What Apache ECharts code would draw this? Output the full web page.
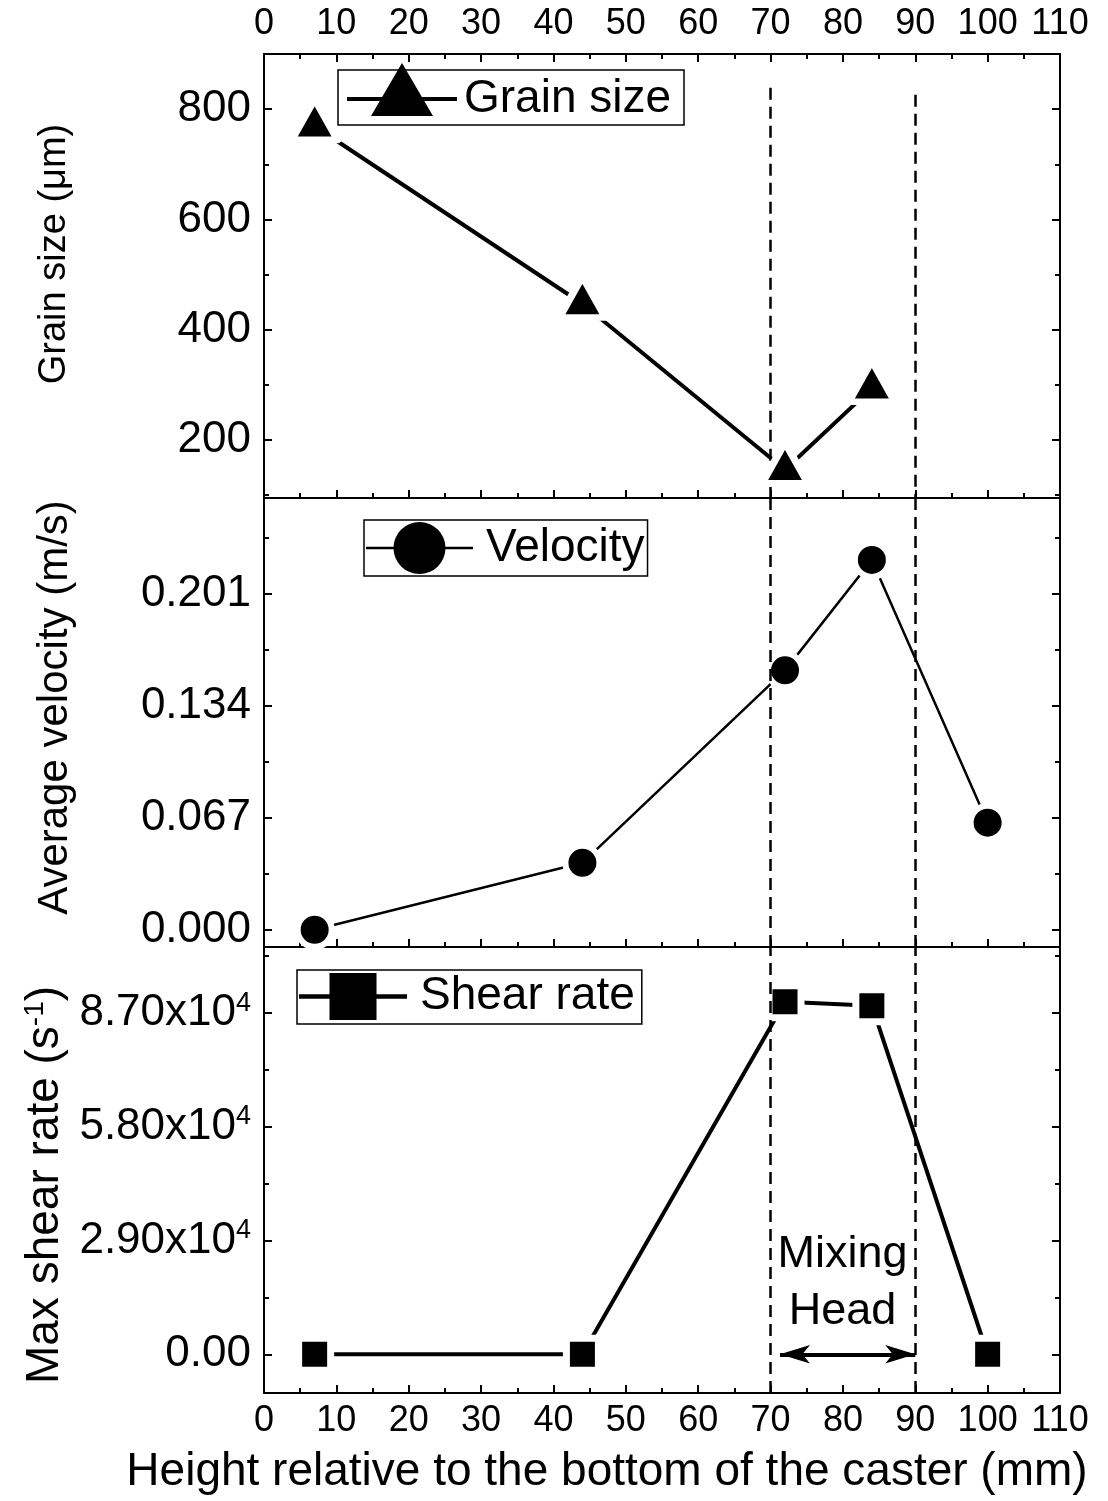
<!DOCTYPE html>
<html><head><meta charset="utf-8">
<script src="https://cdn.jsdelivr.net/npm/echarts@6/dist/echarts.min.js"></script>
<style>html,body{margin:0;padding:0;background:#fff}#c{width:1108px;height:1501px}</style>
</head><body><div id="c"></div>
<script>
// ---- data ----
const xGrain = [7, 44, 72, 84];
const grainSize = [769, 447, 146, 294];
const xVel = [7, 44, 72, 84, 100];
const velocity = [0.000, 0.040, 0.155, 0.221, 0.064];
const xShear = [7, 44, 72, 84, 100];
const shearRate = [0, 0, 89900, 88900, 0];

const grainTicks = [200, 400, 600, 800];
const grainMinor = [100, 300, 500, 700];
const velTicks = [0, 0.067, 0.134, 0.201];
const velMinor = [0.0335, 0.1005, 0.1675, 0.2345];
const shearTicks = [0, 29000, 58000, 87000];
const shearMinor = [14500, 43500, 72500, 101500];

const mixingZone = [70, 90];
const grainDashTop = [839, 826];
const arrowSpan = [71.3, 90.0];

const grainRange = [94.7, 900];
const velRange = [-0.0103, 0.258];
const shearRange = [-9880, 103850];

// ---- styling helpers ----
const FONT = '"Liberation Sans", Arial, Helvetica, sans-serif';
const BLACK = '#000';
const pairs = (xs, ys) => xs.map((x, i) => [x, ys[i]]);

function xAx(grid, extra) {
  return Object.assign({
    type: 'value', gridIndex: grid, min: 0, max: 110, interval: 10,
    axisLine: {show: true, onZero: false, lineStyle: {color: BLACK, width: 2}},
    axisTick: {show: true, inside: true, length: 8, lineStyle: {color: BLACK, width: 2}},
    minorTick: {show: true, splitNumber: 2, length: 5, lineStyle: {color: BLACK, width: 2}},
    splitLine: {show: false}, minorSplitLine: {show: false},
    axisLabel: {show: false}
  }, extra);
}
function yAx(grid, pos, range, values, major, extra) {
  return Object.assign({
    type: 'value', gridIndex: grid, position: pos, min: range[0], max: range[1],
    axisLine: {show: major, onZero: false, lineStyle: {color: BLACK, width: 2}},
    axisTick: {show: true, inside: true, length: major ? 8 : 5, customValues: values,
               lineStyle: {color: BLACK, width: 2}},
    splitLine: {show: false},
    axisLabel: {show: false}
  }, extra);
}
const yLabel = (values, fmt, rich) => ({
  show: true, customValues: values, formatter: fmt, margin: 13,
  fontSize: 44, color: BLACK, fontFamily: FONT, rich: rich
});
const yName = (name, size, gap, pad, rich) => ({
  name: name, nameLocation: 'middle', nameGap: gap, nameRotate: 90,
  nameTextStyle: {fontSize: size, color: BLACK, fontFamily: FONT, padding: pad, rich: rich}
});

const dash = {color: BLACK, width: 2.5, type: [12, 7]};

// legend icon paths (line + marker)
const ICON_TRI = 'path://M0,34L110,34L110,38L0,38Z M24,53L55,0L86,53Z M0,72L110,72Z';
const ICON_CIR = 'path://M0,24.65L107,24.65L107,27.35L0,27.35Z M27.5,26A26,26 0 1 1 79.5,26A26,26 0 1 1 27.5,26Z';
const ICON_SQR = 'path://M0,21.2L108,21.2L108,25.8L0,25.8Z M30.5,0L77.5,0L77.5,47L30.5,47Z';

const legendBase = {
  orient: 'horizontal', selectedMode: false,
  itemStyle: {borderWidth: 0, borderColor: 'rgba(0,0,0,0)'},
  textStyle: {color: BLACK, fontFamily: FONT, fontSize: 46}
};
const gridBase = {left: 264, width: 796, containLabel: false, outerBoundsMode: 'none'};

const option = {
  backgroundColor: '#fff',
  animation: false,
  grid: [
    Object.assign({top: 54, height: 444}, gridBase),
    Object.assign({top: 498, height: 449}, gridBase),
    Object.assign({top: 947, height: 446}, gridBase)
  ],
  xAxis: [
    xAx(0, {position: 'bottom'}),
    xAx(0, {position: 'top', axisLabel: {show: true, fontSize: 36, margin: 12, color: BLACK, fontFamily: FONT}}),
    xAx(1, {position: 'bottom'}),
    xAx(2, {position: 'bottom',
      axisLabel: {show: true, fontSize: 36, margin: 10, color: BLACK, fontFamily: FONT},
      name: 'Height relative to the bottom of the caster (mm)', nameLocation: 'middle', nameGap: 56,
      nameTextStyle: {fontSize: 46, color: BLACK, fontFamily: FONT, padding: [0, 110, 0, 0]}})
  ],
  yAxis: [
    yAx(0, 'left', grainRange, grainTicks, true, Object.assign({
      axisLabel: yLabel(grainTicks, v => String(Math.round(v)))},
      yName('Grain size (μm)', 38, 190, [0, 0, 0, 44]))),
    yAx(0, 'left', grainRange, grainMinor, false),
    yAx(0, 'right', grainRange, grainTicks, true),
    yAx(0, 'right', grainRange, grainMinor, false),

    yAx(1, 'left', velRange, velTicks, true, Object.assign({
      axisLabel: yLabel(velTicks, v => v.toFixed(3))},
      yName('Average velocity (m/s)', 42, 188, [0, 0, 0, 30]))),
    yAx(1, 'left', velRange, velMinor, false),
    yAx(1, 'right', velRange, velTicks, true),
    yAx(1, 'right', velRange, velMinor, false),

    yAx(2, 'left', shearRange, shearTicks, true, Object.assign({
      axisLabel: yLabel(shearTicks,
        v => v === 0 ? '0.00' : (v / 1e4).toFixed(2) + 'x10{sup|4}',
        {sup: {fontSize: 27, color: BLACK, fontFamily: FONT, verticalAlign: 'bottom', padding: [0, 0, 20, 0]}})},
      yName('Max shear rate (s{sup|-1})', 46, 186, [0, 30, 0, 0],
        {sup: {fontSize: 28, color: BLACK, fontFamily: FONT, verticalAlign: 'bottom', padding: [0, 0, 20, 0]}}))),
    yAx(2, 'left', shearRange, shearMinor, false),
    yAx(2, 'right', shearRange, shearTicks, true),
    yAx(2, 'right', shearRange, shearMinor, false)
  ],
  legend: [
    Object.assign({}, legendBase, {
      data: [{name: 'Grain size', icon: ICON_TRI}], left: 347, top: 63, padding: 0,
      itemWidth: 114, itemHeight: 72, borderWidth: 0}),
    Object.assign({}, legendBase, {
      data: [{name: 'Velocity', icon: ICON_CIR}], left: 364, top: 520, padding: [2, 3, 2, 2],
      itemWidth: 123, itemHeight: 52, borderWidth: 1.5, borderColor: BLACK}),
    Object.assign({}, legendBase, {
      data: [{name: 'Shear rate', icon: ICON_SQR}], left: 297, top: 970, padding: [3, 7, 4, 2],
      itemWidth: 124, itemHeight: 47, borderWidth: 1.5, borderColor: BLACK})
  ],
  graphic: [
    {type: 'rect', shape: {x: 338, y: 70, width: 346, height: 55},
     style: {fill: 'none', stroke: BLACK, lineWidth: 1.5}, z: 0, silent: true}
  ],
  series: [
    {
      name: 'Grain size', type: 'line', xAxisIndex: 0, yAxisIndex: 0,
      data: pairs(xGrain, grainSize),
      symbol: 'triangle', symbolSize: [46, 41], symbolOffset: [0, -6.8],
      itemStyle: {color: BLACK, borderColor: '#fff', borderWidth: 7, borderJoin: 'round'},
      lineStyle: {color: BLACK, width: 4, cap: 'round'},
      emphasis: {disabled: true}, z: 3,
      markLine: {
        silent: true, symbol: 'none', label: {show: false}, lineStyle: dash, z: 2,
        data: [
          [{coord: [mixingZone[0], grainDashTop[0]]}, {coord: [mixingZone[0], grainRange[0]]}],
          [{coord: [mixingZone[1], grainDashTop[1]]}, {coord: [mixingZone[1], grainRange[0]]}]
        ]
      }
    },
    {
      name: 'Velocity', type: 'line', xAxisIndex: 2, yAxisIndex: 4,
      data: pairs(xVel, velocity),
      symbol: 'circle', symbolSize: 34,
      itemStyle: {color: BLACK, borderColor: '#fff', borderWidth: 6},
      lineStyle: {color: BLACK, width: 2.5, cap: 'round'},
      emphasis: {disabled: true}, z: 3,
      markLine: {
        silent: true, symbol: 'none', label: {show: false}, lineStyle: dash,
        data: [{xAxis: mixingZone[0]}, {xAxis: mixingZone[1]}]
      }
    },
    {
      name: 'Shear rate', type: 'line', xAxisIndex: 3, yAxisIndex: 8,
      data: pairs(xShear, shearRate),
      symbol: 'rect', symbolSize: 32,
      itemStyle: {color: BLACK, borderColor: '#fff', borderWidth: 7},
      lineStyle: {color: BLACK, width: 4, cap: 'round'},
      emphasis: {disabled: true}, z: 3,
      markLine: {
        silent: true, symbol: 'none', symbolSize: [14, 30], label: {show: false}, lineStyle: dash,
        data: [
          {xAxis: mixingZone[0]}, {xAxis: mixingZone[1]},
          [
            {coord: [arrowSpan[0], 0], symbol: 'arrow', symbolSize: [14, 30],
             lineStyle: {color: BLACK, width: 4, type: 'solid'},
             label: {show: true, position: 'middle', formatter: 'Mixing\nHead', distance: 14,
                     fontSize: 45, lineHeight: 57, color: BLACK, fontFamily: FONT,
                     padding: [0, 10, 0, 0]}},
            {coord: [arrowSpan[1], 0], symbol: 'arrow', symbolSize: [14, 30]}
          ]
        ]
      }
    }
  ]
};

const chart = echarts.init(document.getElementById('c'), null, {renderer: 'canvas'});
chart.setOption(option);
</script>
</body></html>
